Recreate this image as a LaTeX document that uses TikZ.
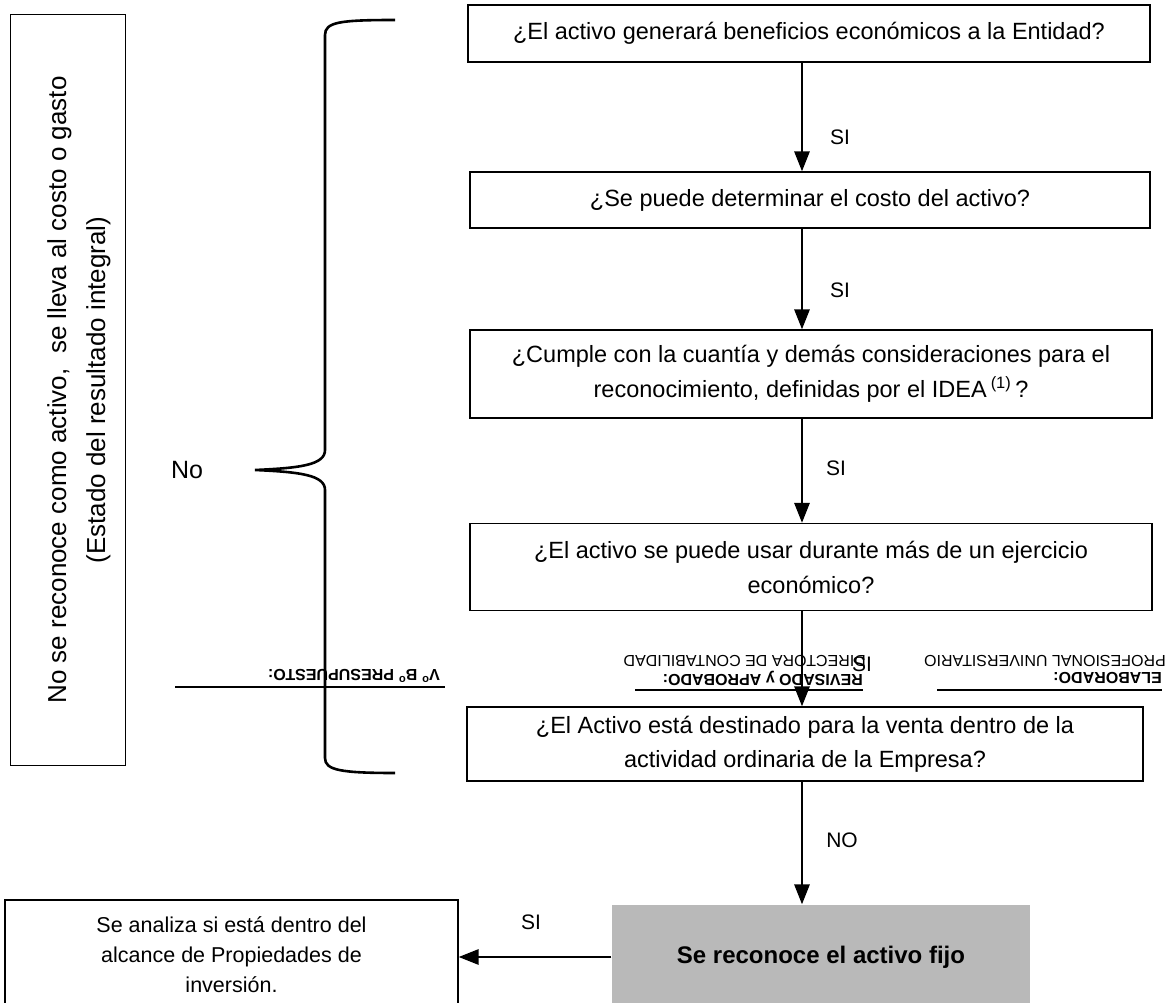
\documentclass[tikz,border=0pt]{standalone}
\usepackage{fontspec}
\setmainfont{Liberation Sans}
\usetikzlibrary{arrows.meta}
\begin{document}
\begin{tikzpicture}[x=1pt,y=-1pt,
  box/.style={draw, line width=1.2pt, inner sep=0pt, align=center,
    font=\fontsize{23.5}{35}\selectfont},
  arr/.style={line width=2.8pt, -{Triangle[length=20pt,width=15pt]}},
  lbl/.style={font=\fontsize{21}{24}\selectfont, inner sep=0pt},
  sig/.style={rotate=180, inner sep=0pt, font=\fontsize{16}{18}\selectfont},
  sigb/.style={sig, font=\fontsize{16}{18}\selectfont\bfseries},
  sigline/.style={line width=2pt}
]
\useasboundingbox (0,0) rectangle (1168,1003);

% main flow boxes
\node[box, minimum width=682pt, minimum height=57pt] (b1) at (809,33.5)
  {¿El activo generará beneficios económicos a la Entidad?};
\node[box, minimum width=680pt, minimum height=56pt] (b2) at (810,200)
  {¿Se puede determinar el costo del activo?};
\node[box, minimum width=682pt, minimum height=88pt] (b3) at (811,374)
  {¿Cumple con la cuantía y demás consideraciones para el\\
   reconocimiento, definidas por el IDEA\,\textsuperscript{(1)}\,?};
\node[box, minimum width=682pt, minimum height=87pt] (b4) at (811,567)
  {¿El activo se puede usar durante más de un ejercicio\\ económico?};
\node[box, minimum width=676pt, minimum height=74pt, font=\fontsize{23.5}{34}\selectfont] (b5) at (805,744)
  {¿El Activo está destinado para la venta dentro de la\\
   actividad ordinaria de la Empresa?};
\node[box, draw=none, fill=gray!55, minimum width=418pt, minimum height=104pt,
  font=\fontsize{24}{26}\selectfont\bfseries] (fx) at (821,957)
  {Se reconoce el activo fijo};
\node[box, minimum width=453pt, minimum height=110pt, font=\fontsize{21.5}{30}\selectfont] (lb) at (231.5,955)
  {Se analiza si está dentro del\\ alcance de Propiedades de\\ inversión.};

% left rotated box
\draw[line width=1pt] (10,15) rectangle (125,765);
\node[rotate=90, align=center, inner sep=0pt, font=\fontsize{26}{39}\selectfont] (nr) at (79,390)
  {No se reconoce como activo,\ \ se lleva al costo o gasto\\ (Estado del resultado integral)};

% brace and No
\node[inner sep=0pt, font=\fontsize{25}{27}\selectfont] (no) at (187,470) {No};
\coordinate (tip) at (255,470);
\draw[line width=2.6pt]
  (395,20) .. controls (340,20) and (325,22) .. (325,35)
  -- (325,450) .. controls (325,465) and (300,468) .. (tip)
  .. controls (300,472) and (325,475) .. (325,490)
  -- (325,758) .. controls (325,770) and (340,773) .. (395,773);

% connectors
\coordinate (ax) at (802,0);
\draw[arr] (b1.south -| ax) -- (b2.north -| ax);
\draw[arr] (b2.south -| ax) -- (b3.north -| ax);
\draw[arr] (b3.south -| ax) -- (b4.north -| ax);
\draw[arr] (b4.south -| ax) -- (b5.north -| ax);
\draw[arr] (b5.south -| ax) -- (fx.north -| ax);
\draw[arr] (fx.west) -- (fx.west -| lb.east);

\node[lbl] (s1) at (840,137) {SI};
\node[lbl] (s2) at (840,290) {SI};
\node[lbl] (s3) at (836,468) {SI};
\node[lbl] (s5) at (842,840) {NO};
\node[lbl] (s6) at (531,922) {SI};

% upside-down signature blocks
\draw[sigline] (175,687) -- (445,687);
\node[sigb, anchor=west] (vb) at (440,676)
  {V\textsuperscript{o} B\textsuperscript{o} PRESUPUESTO:};

\draw[sigline] (635,690) -- (863,690);
\node[sigb, anchor=west] (rv) at (863,678) {REVISADO y APROBADO:};
\node[sig, anchor=west] (dc) at (866,661) {DIRECTORA DE CONTABILIDAD};

\draw[sigline] (937,690) -- (1162,690);
\node[sigb, anchor=west] (el) at (1162,678) {ELABORADO:};
\node[sig, anchor=west] (pu) at (1166,661) {PROFESIONAL UNIVERSITARIO};

\node[lbl] (s4) at (862,664) {SI};
\end{tikzpicture}
\end{document}
